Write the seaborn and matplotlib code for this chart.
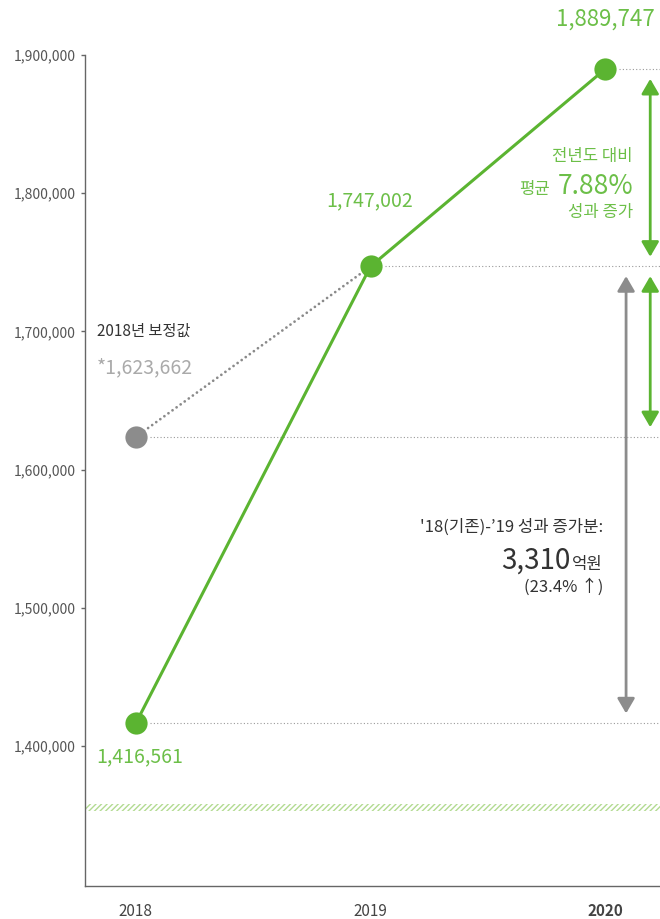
import matplotlib
matplotlib.use("Agg")
import matplotlib.pyplot as plt
import matplotlib.transforms as mtransforms
import pandas as pd
import seaborn as sns

# dados
anos = [2018, 2019, 2020]
desempenho = [1416561, 1747002, 1889747]
anos_ajuste = [2018, 2019]
ajustado = [1623662, 1747002]
rotulos_x = ["2018", "2019", "2020"]
ticks_y = [1400000, 1500000, 1600000, 1700000, 1800000, 1900000]

verde = "#5bb431"
verde_txt = "#6cbf48"
cinza = "#8c8c8c"
escuro = "#333333"

sns.set_style("white")
plt.rcParams["font.family"] = ["Noto Sans CJK KR", "DejaVu Sans"]

W, H = 660, 919
fig = plt.figure(figsize=(W / 100, H / 100), dpi=100)
ax = fig.add_axes([85 / W, 1 - 886 / H, 575 / W, (886 - 55) / H])


def px(x, y):
    return x / W, 1 - y / H


df = pd.DataFrame({"ano": anos, "valor": desempenho})
df_aj = pd.DataFrame({"ano": anos_ajuste, "valor": ajustado})

# faixa hachurada (quebra de eixo)
ax.axhspan(1353000, 1358000, facecolor="none", edgecolor="#b3db92",
           hatch="//////", lw=0, zorder=1)

# linhas de referência pontilhadas
ref = [(anos[0], desempenho[0]), (anos_ajuste[0], ajustado[0]),
       (anos[1], desempenho[1]), (anos[2], desempenho[2])]
for xa, ya in ref:
    ax.hlines(ya, xa + 0.06, 2020.234, colors="#9a9a9a", lw=0.8,
              linestyles=(0, (1, 2)), zorder=1)

# linha ajustada (pontilhada cinza)
sns.lineplot(data=df_aj, x="ano", y="valor", ax=ax, color="#8a8a8a", lw=2,
             linestyle=(0, (0.01, 1.8)), dash_capstyle="round", zorder=2)
ax.plot(anos_ajuste[:1], ajustado[:1], "o", color=cinza, markersize=16,
        markeredgewidth=0, zorder=4, clip_on=False)

# linha principal
sns.lineplot(data=df, x="ano", y="valor", ax=ax, color=verde, lw=2.2,
             marker="o", markersize=16, markeredgewidth=0, zorder=3,
             clip_on=False)

ax.set_xlim(2017.783, 2020.234)
ax.set_ylim(1298700, 1900000)
ax.set_xlabel("")
ax.set_ylabel("")
ax.set_xticks(anos)
ax.set_xticklabels(rotulos_x)
ax.get_xticklabels()[2].set_fontweight("bold")
ax.set_yticks(ticks_y)
ax.set_yticklabels([f"{v:,}" for v in ticks_y])
ax.tick_params(axis="x", length=0, pad=12, labelsize=11, labelcolor="#444444")
ax.tick_params(axis="y", left=True, length=3, width=1, color="#666666",
               pad=4, labelsize=10, labelcolor="#555555")
for s in ["top", "right"]:
    ax.spines[s].set_visible(False)
for s in ["left", "bottom"]:
    ax.spines[s].set_color("#666666")
    ax.spines[s].set_linewidth(1)

# setas
gap = 7000
trans = mtransforms.blended_transform_factory(ax.transAxes, ax.transData)
estilo = "<|-|>,head_length=0.6,head_width=0.35"
for xf, y1, y2, cor in [(0.983, desempenho[2] - gap, desempenho[1] + gap, verde),
                        (0.983, desempenho[1] - gap, ajustado[0] + gap, verde),
                        (0.941, desempenho[1] - gap, desempenho[0] + gap, cinza)]:
    ax.annotate("", xy=(xf, y1), xytext=(xf, y2), xycoords=trans,
                textcoords=trans,
                arrowprops=dict(arrowstyle=estilo, color=cor, lw=2,
                                mutation_scale=15, shrinkA=0, shrinkB=0))

# rótulos de valores
fig.text(*px(605, 19), f"{desempenho[2]:,}", fontsize=16, color=verde_txt,
         ha="center", va="center")
fig.text(*px(370, 201), f"{desempenho[1]:,}", fontsize=14, color=verde_txt,
         ha="center", va="center")
fig.text(*px(140, 757), f"{desempenho[0]:,}", fontsize=14, color=verde_txt,
         ha="center", va="center")
fig.text(*px(97, 331), "2018년 보정값", fontsize=11, color=escuro,
         ha="left", va="center")
fig.text(*px(97, 368), f"*{ajustado[0]:,}", fontsize=14, color="#aaaaaa",
         ha="left", va="center")

# anotação verde
fig.text(*px(633, 157), "전년도 대비", fontsize=12, color=verde_txt,
         ha="right", va="center")
fig.text(*px(633, 194), "7.88%", fontsize=19, color=verde_txt,
         ha="right", va="baseline")
fig.text(*px(550, 194), "평균", fontsize=12, color=verde_txt,
         ha="right", va="baseline")
fig.text(*px(633, 212), "성과 증가", fontsize=12, color=verde_txt,
         ha="right", va="center")

# anotação cinza
fig.text(*px(603, 527), "'18(기존)-’19 성과 증가분:", fontsize=12,
         color=escuro, ha="right", va="center")
fig.text(*px(571, 569), "3,310", fontsize=20, color=escuro,
         ha="right", va="baseline")
fig.text(*px(603, 569), "억원", fontsize=12, color=escuro,
         ha="right", va="baseline")
fig.text(*px(603, 587), "(23.4% ↑)", fontsize=12, color=escuro,
         ha="right", va="center")

fig.savefig("out.png", dpi=100)
